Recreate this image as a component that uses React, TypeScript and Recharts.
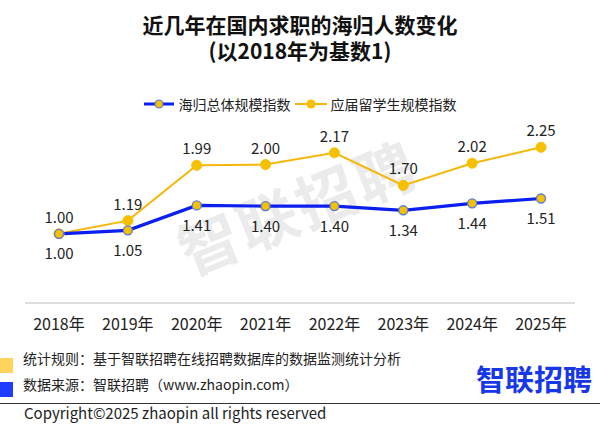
import React from "react";
import { LineChart, Line, XAxis, YAxis, LabelList } from "recharts";

const years = ["2018年", "2019年", "2020年", "2021年", "2022年", "2023年", "2024年", "2025年"];
const overseasTotal = [1.0, 1.05, 1.41, 1.4, 1.4, 1.34, 1.44, 1.51];
const freshGrads = [1.0, 1.19, 1.99, 2.0, 2.17, 1.7, 2.02, 2.25];

const data = years.map((year, i) => ({
  year,
  total: overseasTotal[i],
  fresh: freshGrads[i],
}));

const FONT = "'Noto Sans CJK SC', 'Noto Sans', sans-serif";
const BLUE = "#0a1ff0";
const YELLOW = "#f5b80a";

const fmt = (v: number) => v.toFixed(2);

// legend drawn by hand, recharts' Legend would eat into the plot margin
const LegendRow = () => (
  <div style={{ position: "absolute", top: 94, left: 0, width: 600, display: "flex", justifyContent: "center", alignItems: "center", fontSize: 14, lineHeight: "20px", color: "#222" }}>
    <svg width={30} height={12}>
      <line x1={0} y1={6} x2={30} y2={6} stroke={BLUE} strokeWidth={3} />
      <circle cx={15} cy={6} r={4} fill="#f5c000" stroke="#5b7bd5" strokeWidth={1.2} />
    </svg>
    <span style={{ marginLeft: 5, marginRight: 4 }}>海归总体规模指数</span>
    <svg width={32} height={12}>
      <line x1={0} y1={6} x2={32} y2={6} stroke={YELLOW} strokeWidth={2} />
      <circle cx={16} cy={6} r={4.5} fill="#f5c000" />
    </svg>
    <span style={{ marginLeft: 4 }}>应届留学生规模指数</span>
  </div>
);

export default function App() {
  return (
    <div style={{ position: "fixed", left: 0, top: 0, width: 600, height: 438, background: "#fff", fontFamily: FONT, overflow: "hidden" }}>
      <div style={{ position: "absolute", top: 12, width: 600, textAlign: "center", fontWeight: 700, fontSize: 21, lineHeight: "25px", color: "#111" }}>
        近几年在国内求职的海归人数变化
      </div>
      <div style={{ position: "absolute", top: 38, width: 600, textAlign: "center", fontWeight: 700, fontSize: 21, lineHeight: "25px", color: "#111" }}>
        (以2018年为基数1)
      </div>

      <LegendRow />

      {/* watermark */}
      <div style={{ position: "absolute", left: 297, top: 205, width: 0, height: 0 }}>
        <div style={{ position: "absolute", left: -130, top: -36, width: 260, textAlign: "center", fontSize: 60, lineHeight: "72px", fontWeight: 700, color: "#ebebeb", transform: "rotate(-22deg)", letterSpacing: 3, whiteSpace: "nowrap" }}>
          智联招聘
        </div>
      </div>

      <div style={{ position: "absolute", left: 0, top: 0 }}>
        <LineChart width={600} height={438} data={data} margin={{ top: 130, right: 25, bottom: 105, left: 25 }}>
          <XAxis
            dataKey="year"
            height={30}
            padding={{ left: 34, right: 34 }}
            axisLine={{ stroke: "#d4d4d4", strokeWidth: 1.5 }}
            tickLine={false}
            tickSize={0}
            tickMargin={16}
            tick={{ fontSize: 16, fill: "#222", fontFamily: FONT }}
          />
          <YAxis hide domain={[0, 2.5]} />
          <Line
            dataKey="fresh"
            stroke={YELLOW}
            strokeWidth={2}
            dot={{ r: 5, fill: "#f5c000", stroke: "#f5c000", strokeWidth: 1 }}
            isAnimationActive={false}
          >
            <LabelList dataKey="fresh" position="top" offset={11} formatter={fmt} style={{ fontSize: 15, fill: "#222", fontFamily: FONT }} />
          </Line>
          <Line
            dataKey="total"
            stroke={BLUE}
            strokeWidth={3.2}
            dot={{ r: 4.5, fill: "#f5c000", stroke: "#5b7bd5", strokeWidth: 1.3 }}
            isAnimationActive={false}
          >
            <LabelList dataKey="total" position="bottom" offset={15} formatter={fmt} style={{ fontSize: 15, fill: "#222", fontFamily: FONT }} />
          </Line>
        </LineChart>
      </div>

      <div style={{ position: "absolute", left: 0, top: 358, width: 13, height: 15, background: "#ffd35c" }} />
      <div style={{ position: "absolute", left: 0, top: 382, width: 13, height: 15, background: "#1f3cff" }} />
      <div style={{ position: "absolute", left: 23, top: 348, fontSize: 14, lineHeight: "20px", color: "#222" }}>统计规则：基于智联招聘在线招聘数据库的数据监测统计分析</div>
      <div style={{ position: "absolute", left: 23, top: 374, fontSize: 14, lineHeight: "20px", color: "#222" }}>数据来源：智联招聘（www.zhaopin.com）</div>
      <div style={{ position: "absolute", left: 476, top: 360, fontSize: 29, lineHeight: "36px", fontWeight: 700, color: "#1737e8" }}>智联招聘</div>
      <div style={{ position: "absolute", left: 0, top: 403, width: 600, height: 1, background: "#333" }} />
      <div style={{ position: "absolute", left: 24, top: 403, fontSize: 15, lineHeight: "20px", color: "#222" }}>Copyright©2025 zhaopin all rights reserved</div>
    </div>
  );
}
